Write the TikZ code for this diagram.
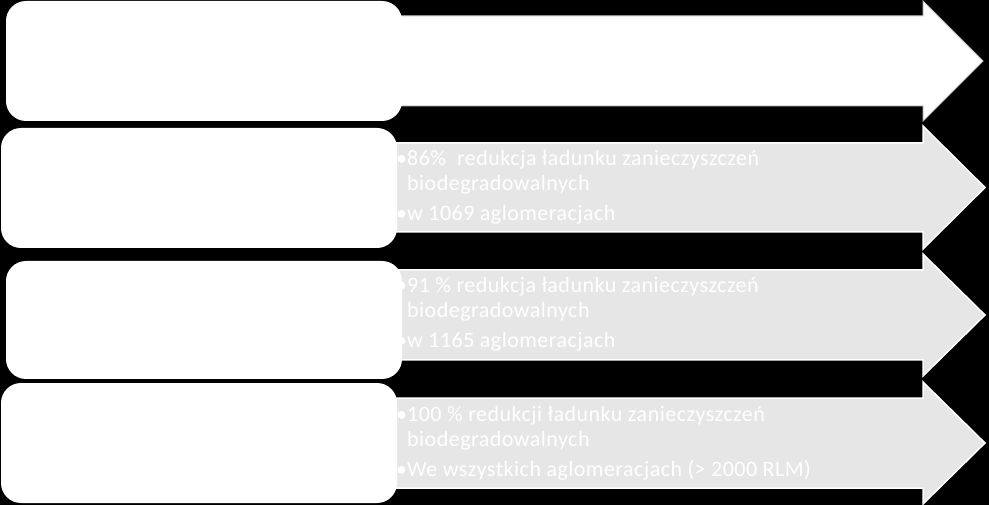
\documentclass[tikz,border=0pt]{standalone}
\usepackage{fontspec}
\setmainfont{Carlito}[LetterSpace=2.2]
\definecolor{arrowgray}{RGB}{230,230,230}
\definecolor{glowgray}{RGB}{200,200,200}
\tikzset{
  roundbox/.style={rectangle, fill=white, draw=none, rounded corners=20pt, minimum width=396pt, inner sep=0pt},
  grayarrow/.style={fill=arrowgray, draw=white, line width=1.5pt, line join=miter},
  whitearrow/.style={fill=white, draw=glowgray, line width=1pt, line join=miter},
  txt/.style={anchor=base west, inner sep=0pt, text=white, font=\fontsize{22}{26}\selectfont}
}
\newcommand{\bul}{\makebox[11pt][l]{\textbullet}}
\begin{document}
\begin{tikzpicture}[x=1pt,y=-1pt]
\fill[black] (0,0) rectangle (989,505);
\useasboundingbox (0,0) rectangle (989,505);
% arrows
\path[whitearrow] (390,16) -- (923,16) -- (923,1) -- (983,61) -- (923,121) -- (923,106) -- (390,106) -- cycle;
\path[grayarrow] (390,143) -- (923,143) -- (923,126) -- (985,187.5) -- (923,249) -- (923,232) -- (390,232) -- cycle;
\path[grayarrow] (390,270) -- (923,270) -- (923,254) -- (985,315) -- (923,376) -- (923,360) -- (390,360) -- cycle;
\path[grayarrow] (390,398) -- (923,398) -- (923,382) -- (985,443) -- (923,504) -- (923,488) -- (390,488) -- cycle;
% boxes
\node[roundbox, minimum height=120pt] (b1) at (204,61) {};
\node[roundbox, minimum height=120pt] (b2) at (199,188) {};
\node[roundbox, minimum height=118pt] (b3) at (204,320) {};
\node[roundbox, minimum height=120pt] (b4) at (199,443) {};
% texts row 2
\node[txt] (t2a) at (396,166) {\bul 86\%\ \ redukcja ładunku zanieczyszczeń};
\node[txt] (t2b) at (407,191) {biodegradowalnych};
\node[txt] (t2c) at (396,221) {\bul w 1069 aglomeracjach};
% texts row 3
\node[txt] (t3a) at (396,293) {\bul 91 \% redukcja ładunku zanieczyszczeń};
\node[txt] (t3b) at (407,318) {biodegradowalnych};
\node[txt] (t3c) at (396,348) {\bul w 1165 aglomeracjach};
% texts row 4
\node[txt] (t4a) at (396,421) {\bul 100 \% redukcji ładunku zanieczyszczeń};
\node[txt] (t4b) at (407,446) {biodegradowalnych};
\node[txt] (t4c) at (396,476) {\bul We wszystkich aglomeracjach (> 2000 RLM)};
\end{tikzpicture}
\end{document}
